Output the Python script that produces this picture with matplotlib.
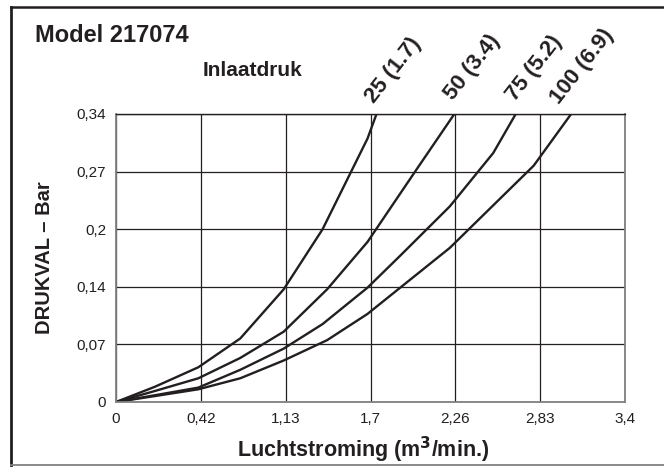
import numpy as np
import matplotlib.pyplot as plt
from matplotlib.lines import Line2D

# Pressure drop curves, Model 217074
# x = air flow (m3/min), y = pressure drop (bar)
x_25 = [0, 0.26, 0.55, 0.83, 1.12, 1.38, 1.68, 1.74]
y_25 = [0, 0.018, 0.041, 0.075, 0.133, 0.204, 0.311, 0.34]

x_50 = [0, 0.26, 0.55, 0.83, 1.12, 1.41, 1.68, 1.99, 2.26]
y_50 = [0, 0.013, 0.028, 0.052, 0.083, 0.133, 0.189, 0.27, 0.34]

x_75 = [0, 0.26, 0.55, 0.83, 1.12, 1.38, 1.68, 1.90, 2.23, 2.52, 2.67]
y_75 = [0, 0.008, 0.017, 0.038, 0.063, 0.092, 0.135, 0.173, 0.231, 0.294, 0.34]

x_100 = [0, 0.26, 0.55, 0.83, 1.12, 1.41, 1.68, 2.23, 2.79, 3.04]
y_100 = [0, 0.007, 0.015, 0.028, 0.049, 0.073, 0.104, 0.182, 0.279, 0.34]

curve_labels = ['25 (1.7)', '50 (3.4)', '75 (5.2)', '100 (6.9)']

x_ticklabels = ['0', '0,42', '1,13', '1,7', '2,26', '2,83', '3,4']
y_ticklabels = ['0', '0,07', '0,14', '0,2', '0,27', '0,34']

plt.rcParams['font.family'] = ['Liberation Sans', 'DejaVu Sans']

ink = '#231f20'
grey = '#808080'

fig = plt.figure(figsize=(6.64, 4.67), dpi=100)
ax = fig.add_axes([0.1747, 0.1392, 0.7666, 0.6167])

for xs, ys in [(x_25, y_25), (x_50, y_50), (x_75, y_75), (x_100, y_100)]:
    ax.plot(xs, ys, color=ink, lw=1.7, solid_joinstyle='round')

ax.set_xlim(0, 3.4)
ax.set_ylim(0, 0.34)
ax.set_xticks(np.linspace(0, 3.4, 7))
ax.set_xticklabels(x_ticklabels)
ax.set_yticks(np.linspace(0, 0.34, 6))
ax.set_yticklabels(y_ticklabels)
ax.tick_params(length=0, labelsize=11, colors=ink, pad=7)
ax.grid(True, color=ink, lw=0.9)
for side in ['left', 'bottom', 'right']:
    ax.spines[side].set_color(grey)
    ax.spines[side].set_linewidth(1.3)
ax.spines['top'].set_color(ink)
ax.spines['top'].set_linewidth(1.0)

ax.set_xlabel('Luchtstroming (m$^{\\mathbf{3}}$/min.)', fontsize=15.5, fontweight='bold',
              color=ink, labelpad=3)
ax.xaxis.set_label_coords(0.485, -0.115)
ax.set_ylabel('DRUKVAL – Bar', fontsize=14.5, fontweight='bold', color=ink, labelpad=16)

# labels of the inlet pressure curves
label_pos = [(374, 104), (453, 101), (515, 102), (559, 105)]
for lbl, (px, py) in zip(curve_labels, label_pos):
    fig.text(px / 664, 1 - py / 467, lbl, rotation=52, rotation_mode='anchor',
             ha='left', va='baseline', fontsize=16, fontweight='bold', color=ink)

fig.text(35 / 664, 1 - 36 / 467, 'Model 217074', fontsize=17, fontweight='bold',
         color=ink, ha='left', va='center')
fig.text(252 / 664, 1 - 71 / 467, 'Inlaatdruk', fontsize=15, fontweight='bold',
         color=ink, ha='center', va='center')

# outer frame
fig.add_artist(Line2D([11 / 664, 1], [1 - 7 / 467, 1 - 7 / 467], color=ink, lw=1.8,
                      transform=fig.transFigure))
fig.add_artist(Line2D([11 / 664, 11 / 664], [1 - 7 / 467, 1 - 465 / 467], color=ink, lw=2.0,
                      transform=fig.transFigure))
fig.add_artist(Line2D([11 / 664, 1], [1 - 465 / 467, 1 - 465 / 467], color=grey, lw=1.3,
                      transform=fig.transFigure))

fig.savefig('out.png', dpi=100)
